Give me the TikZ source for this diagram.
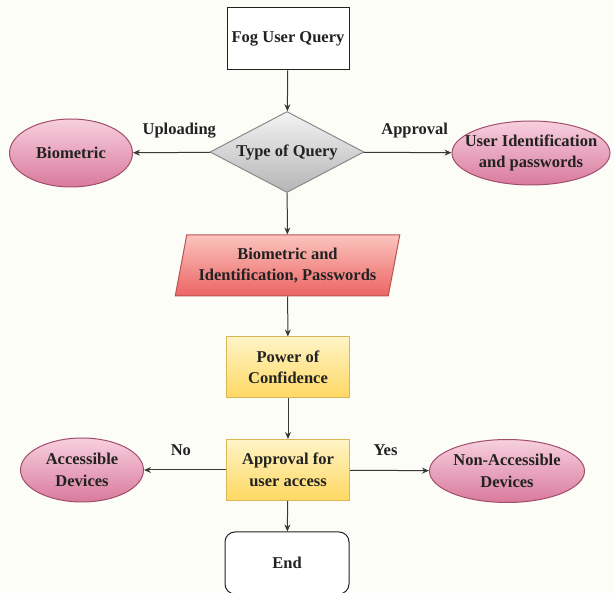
\documentclass[tikz,border=0pt]{standalone}
\usepackage{fontspec}
\setmainfont{Liberation Serif}
\usetikzlibrary{shapes.geometric,arrows.meta}
\definecolor{bg}{HTML}{FDFDF8}
\definecolor{ink}{HTML}{222222}
\definecolor{pinkA}{HTML}{F7D0DE}
\definecolor{pinkB}{HTML}{D97A9C}
\definecolor{pinkD}{HTML}{A24D6C}
\definecolor{grayA}{HTML}{F3F3F3}
\definecolor{grayB}{HTML}{B5B5B5}
\definecolor{grayD}{HTML}{8A8A8A}
\definecolor{redA}{HTML}{FBC4BD}
\definecolor{redB}{HTML}{EC6464}
\definecolor{redD}{HTML}{B85450}
\definecolor{yelA}{HTML}{FFF4C6}
\definecolor{yelB}{HTML}{FFD862}
\definecolor{yelD}{HTML}{D6B656}
\tikzset{
  txt/.style={font=\fontsize{16.5}{21.5}\selectfont\bfseries, text=ink, align=center},
  plainbox/.style={txt, rectangle, draw=ink, line width=1pt, fill=white, minimum width=122pt, minimum height=62pt, inner sep=0pt},
  pinkell/.style={ellipse, draw=pinkD, line width=1pt, top color=pinkA, bottom color=pinkB, inner sep=0pt},
  ellabel/.style={txt},
  graydia/.style={txt, diamond, draw=grayD, line width=1pt, top color=grayA, bottom color=grayB, minimum width=154pt, minimum height=81pt, inner sep=0pt, aspect=1.9},
  redpar/.style={txt, trapezium, trapezium left angle=74, trapezium right angle=106, trapezium stretches=true, draw=redD, line width=1pt, top color=redA, bottom color=redB, minimum width=225pt, minimum height=61pt, inner sep=0pt},
  yelbox/.style={txt, rectangle, draw=yelD, line width=1pt, top color=yelA, bottom color=yelB, minimum width=123pt, minimum height=61pt, inner sep=0pt},
  endbox/.style={txt, rectangle, rounded corners=10pt, draw=ink, line width=1pt, fill=white, minimum width=124pt, minimum height=62pt, inner sep=0pt},
  arr/.style={draw=ink!90, line width=1pt, -{Stealth[length=7pt,width=6pt]}},
  edgelbl/.style={txt}
}
\begin{document}
\begin{tikzpicture}[x=1pt,y=-1pt]
\path[use as bounding box, fill=bg] (0,0) rectangle (614,593);

\node[plainbox] (fog) at (288,39) {Fog User Query};
\node[graydia] (type) at (287,152) {Type of Query};
\node[pinkell, minimum width=123pt, minimum height=68pt, label={[ellabel]center:Biometric}] (bio) at (71,153) {};
\node[pinkell, minimum width=158pt, minimum height=64pt, label={[ellabel]center:User Identification\\and passwords}] (uid) at (531,153) {};
\node[redpar] (bip) at (287.5,265.5) {Biometric and\\Identification, Passwords};
\node[yelbox] (pow) at (288,367.5) {Power of\\Confidence};
\node[yelbox] (app) at (288,470) {Approval for\\user access};
\node[pinkell, minimum width=123pt, minimum height=64pt, label={[ellabel]center:Accessible\\Devices}] (acc) at (82,470) {};
\node[pinkell, minimum width=155pt, minimum height=63pt, label={[ellabel]center:Non-Accessible\\Devices}] (nacc) at (507,471) {};
\node[endbox] (end) at (287,563) {End};

\draw[arr] (fog) -- (type);
\draw[arr] (type) -- node[edgelbl, pos=0.4, above=11pt] {Uploading} (bio);
\draw[arr] (type) -- node[edgelbl, pos=0.58, above=11pt] {Approval} (uid);
\draw[arr] (type) -- (bip);
\draw[arr] (bip) -- (pow);
\draw[arr] (pow) -- (app);
\draw[arr] (app) -- node[edgelbl, pos=0.55, above=11pt] {No} (acc);
\draw[arr] (app) -- node[edgelbl, pos=0.45, above=11pt] {Yes} (nacc);
\draw[arr] (app) -- (end);
\end{tikzpicture}
\end{document}
